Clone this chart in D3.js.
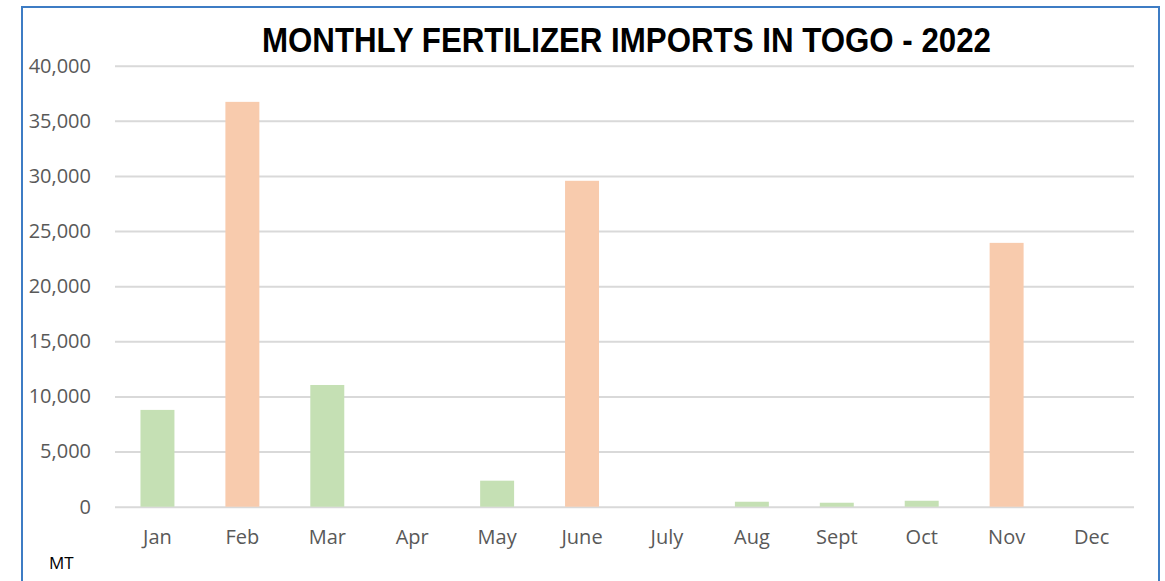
<!DOCTYPE html>
<html>
  <head>
    <meta charset="utf-8">
    <title>Monthly fertilizer imports in Togo - 2022</title>
    <script src="https://cdn.jsdelivr.net/npm/d3@7"></script>
    <style>
      html, body { margin: 0; padding: 0; background: #fff; }
      #chart { width: 1165px; height: 581px; overflow: hidden; }
      svg { display: block; }
    </style>
  </head>
  <body>
    <div id="chart"></div>
    <script>
      // data (MT)
      var months = ["Jan", "Feb", "Mar", "Apr", "May", "June", "July", "Aug", "Sept", "Oct", "Nov", "Dec"];
      var imports = [8780, 36720, 11040, 0, 2360, 29560, 0, 450, 360, 540, 23930, 0];
      var kind = ["g", "o", "g", "g", "g", "o", "g", "g", "g", "g", "o", "g"];
      var yTicks = [0, 5000, 10000, 15000, 20000, 25000, 30000, 35000, 40000];

      var width = 1165, height = 581;
      var plotLeft = 115, plotRight = 1134, plotTop = 65.7, plotBottom = 506.7;

      var svg = d3.select("#chart").append("svg")
        .attr("width", width)
        .attr("height", height);

      // chart frame (bottom edge runs off the image)
      svg.append("rect")
        .attr("x", 22).attr("y", 7)
        .attr("width", 1137).attr("height", 600)
        .attr("fill", "#fff")
        .attr("stroke", "#3d7cc4")
        .attr("stroke-width", 2);

      var x = d3.scaleBand()
        .domain(months)
        .range([plotLeft, plotRight])
        .paddingInner(0.6)
        .paddingOuter(0.3);

      var y = d3.scaleLinear()
        .domain([0, 40000])
        .range([plotBottom, plotTop]);

      var colors = { g: "#c5e0b4", o: "#f8cbad" };

      // gridlines + y labels
      var yAxis = svg.append("g")
        .attr("transform", "translate(" + plotLeft + ",0)")
        .call(d3.axisLeft(y).tickValues(yTicks).tickSize(-(plotRight - plotLeft)).tickPadding(24).tickFormat(d3.format(",")));
      yAxis.select(".domain").remove();
      yAxis.selectAll("line").attr("stroke", "#d9d9d9").attr("stroke-width", 2);
      yAxis.selectAll("text")
        .attr("fill", "#595959")
        .style("font-family", "'Open Sans', 'Liberation Sans', sans-serif")
        .style("font-size", "20px");

      // bars
      svg.append("g").selectAll("rect")
        .data(months)
        .join("rect")
        .attr("x", function (d) { return x(d); })
        .attr("width", x.bandwidth())
        .attr("y", function (d, i) { return y(imports[i]); })
        .attr("height", function (d, i) { return y(0) - y(imports[i]); })
        .attr("fill", function (d, i) { return colors[kind[i]]; });

      // month labels
      var xAxis = svg.append("g")
        .attr("transform", "translate(0," + plotBottom + ")")
        .call(d3.axisBottom(x).tickSize(0).tickPadding(23));
      xAxis.select(".domain").remove();
      xAxis.selectAll("text")
        .attr("fill", "#595959")
        .style("font-family", "'Open Sans', 'Liberation Sans', sans-serif")
        .style("font-size", "20px");

      // title
      svg.append("text")
        .attr("x", 262).attr("y", 52)
        .attr("textLength", 729)
        .attr("lengthAdjust", "spacingAndGlyphs")
        .style("font-family", "'Liberation Sans Narrow', 'Liberation Sans', sans-serif")
        .style("font-weight", "bold")
        .style("font-size", "35px")
        .attr("fill", "#000")
        .text("MONTHLY FERTILIZER IMPORTS IN TOGO - 2022");

      // unit
      svg.append("text")
        .attr("x", 49).attr("y", 569)
        .style("font-family", "'Open Sans', 'Liberation Sans', sans-serif")
        .style("font-size", "17px")
        .attr("fill", "#000")
        .text("MT");
    </script>
  </body>
</html>
